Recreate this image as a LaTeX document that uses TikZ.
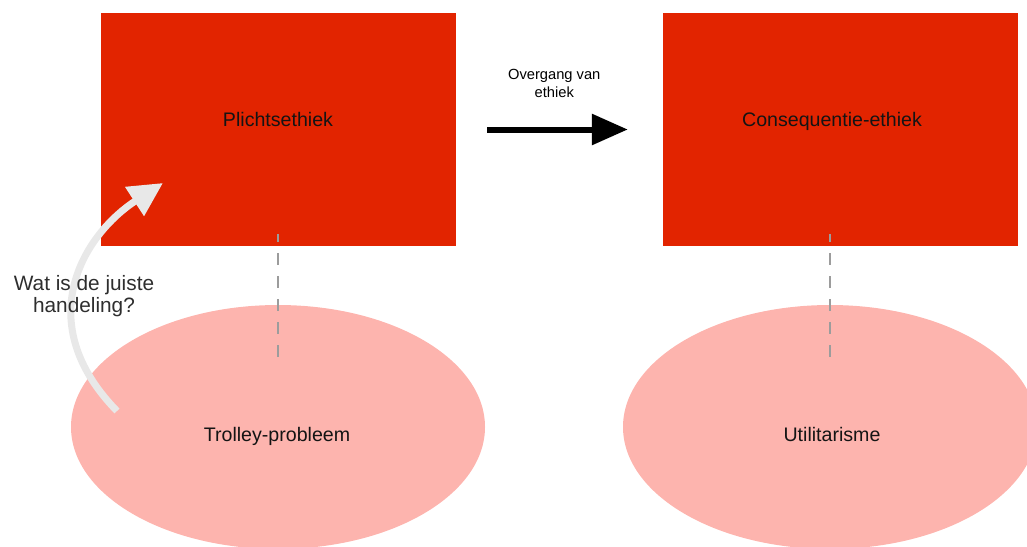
\documentclass[tikz,border=0pt]{standalone}
\usepackage{fontspec}
\setmainfont{Liberation Sans}
\usetikzlibrary{arrows.meta,calc,shapes.geometric}
\definecolor{boxred}{HTML}{E22400}
\definecolor{ellpink}{HTML}{FDB4AE}
\definecolor{arrowgray}{HTML}{E8E8E8}
\definecolor{dashgray}{HTML}{9C9C9C}
\definecolor{labelgray}{HTML}{2E2E2E}
\begin{document}
\begin{tikzpicture}[x=1pt, y=-1pt,
  ethiek/.style={rectangle, fill=boxred, minimum width=355pt, minimum height=233pt, inner sep=0pt},
  voorbeeld/.style={ellipse, fill=ellpink, minimum width=414pt, minimum height=244pt, inner sep=0pt},
  tekst/.style={font=\fontsize{19.6}{23}\selectfont, text=black!92, anchor=base, inner sep=0pt},
  verband/.style={dashgray, line width=2pt, dash pattern=on 12pt off 11pt, dash phase=4pt}]
\useasboundingbox (0,0) rectangle (1027,546);
\clip (0,0) rectangle (1027,546);
\node[ethiek] (plicht) at (278,129.5) {};
\node[ethiek] (gevolg) at (840.5,129.5) {};
\node[voorbeeld] (trolley) at (278,427) {};
\node[voorbeeld] (util) at (830,427) {};
\coordinate (vraag-start) at (117,411);
\coordinate (vraag-eind) at (163,183);
\draw[arrowgray, line width=7pt, -{Triangle[length=34pt, width=33pt]}] (vraag-start) .. controls (30,322) and (83,235) .. (vraag-eind);
\node[labelgray, align=center, font=\fontsize{20.8}{21.5}\selectfont] (vraag) at (84,296) {Wat is de juiste\\handeling?};
\draw[line width=6pt, -{Triangle[length=36pt, width=30pt]}, shorten <=31.5pt, shorten >=35pt] (plicht) -- (gevolg)
  node[midway, above=29pt, xshift=-5pt, inner sep=0pt, align=center, font=\fontsize{14.7}{18.3}\selectfont] (overgang) {Overgang van\\ethiek};
\draw[verband] ([yshift=12pt]trolley.north |- plicht.south) -- ([yshift=-53pt]trolley.north);
\draw[verband] ([yshift=12pt]util.north |- gevolg.south) -- ([yshift=-53pt]util.north);
\node[tekst] (plicht-tekst) at ($(plicht.center)+(0,-3.5)$) {Plichtsethiek};
\node[tekst] (gevolg-tekst) at ($(gevolg.center)+(-8.5,-3.5)$) {Consequentie-ethiek};
\node[tekst] (trolley-tekst) at ($(trolley.center)+(-1,14.5)$) {Trolley-probleem};
\node[tekst] (util-tekst) at ($(util.center)+(2,14.5)$) {Utilitarisme};
\end{tikzpicture}
\end{document}
